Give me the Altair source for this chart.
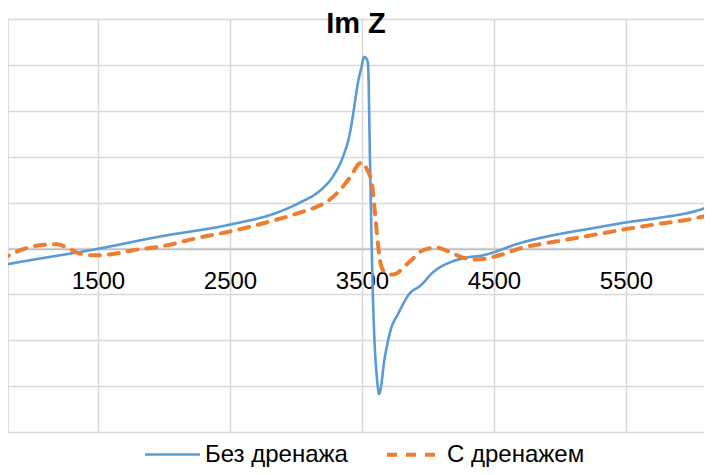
import altair as alt
import pandas as pd

series_names = ["Без дренажа", "С дренажем"]

blue_x = [758, 1061, 1439, 1970, 2500, 2856, 3030, 3182, 3280, 3356, 3409, 3432, 3470, 3500, 3515,
          3530, 3545, 3561, 3576, 3591, 3614, 3629, 3674, 3712, 3780, 3856, 3947, 4038, 4189, 4288,
          4417, 4492, 4667, 4970, 5227, 5508, 5758, 6008, 6152]
blue_y = [-0.37, -0.22, -0.04, 0.26, 0.52, 0.78, 1.0, 1.26, 1.57, 2.0, 2.52, 2.91, 3.62, 4.0, 4.17,
          4.15, 4.04, 1.87, -0.30, -1.76, -2.85, -3.17, -2.35, -1.83, -1.39, -1.0, -0.80, -0.52, -0.28, -0.20,
          -0.15, -0.09, 0.09, 0.30, 0.43, 0.57, 0.67, 0.80, 0.93]

orange_x = [758, 886, 1061, 1189, 1265, 1341, 1462, 1591, 1765, 1970,
            2273, 2500, 2780, 3030, 3159, 3235, 3356, 3432, 3470, 3500,
            3538, 3576, 3598, 3621, 3644, 3674, 3735, 3856, 3962, 4061,
            4159, 4265, 4364, 4515, 4720, 4970, 5227, 5477, 5758, 5977, 6152]
orange_y = [-0.26, -0.07, 0.07, 0.09, 0.02, -0.09, -0.15, -0.13, -0.04, 0.04,
            0.24, 0.37, 0.57, 0.78, 0.91, 1.02, 1.35, 1.65, 1.83, 1.87,
            1.72, 1.39, 0.78, 0.09, -0.37, -0.52, -0.57, -0.30, -0.04, 0.02,
            -0.07, -0.20, -0.24, -0.17, 0.02, 0.15, 0.28, 0.41, 0.54, 0.63, 0.74]

x_ticks = [1500, 2500, 3500, 4500, 5500]
y_grid = [-4, -3, -2, -1, 0, 1, 2, 3, 4, 5]

df = pd.concat([
    pd.DataFrame({"x": blue_x, "y": blue_y, "series": series_names[0], "order": range(len(blue_x))}),
    pd.DataFrame({"x": orange_x, "y": orange_y, "series": series_names[1], "order": range(len(orange_x))}),
])

FONT = "Liberation Sans"

legend = alt.Legend(
    title=None, orient="none", legendX=135, legendY=406, direction="horizontal", columns=2,
    symbolType="stroke", symbolSize=3025, symbolStrokeWidth=3,
    labelFontSize=24, labelFont=FONT, labelColor="black", labelOffset=3,
    columnPadding=31, padding=0,
)

chart = alt.Chart(df).mark_line(interpolate="monotone", clip=True, strokeCap="round").encode(
    x=alt.X("x:Q",
            scale=alt.Scale(domain=[818.2, 6090.9], nice=False, zero=False),
            axis=alt.Axis(values=x_ticks, format="d", orient="bottom", offset=-183,
                          domain=True, domainColor="#BFBFBF", domainWidth=1.5,
                          ticks=False, labelFontSize=24, labelFont=FONT, labelColor="black",
                          labelPadding=20, grid=True, gridColor="#D9D9D9", gridWidth=1.5,
                          title=None, labelFlush=False, labelOverlap=False)),
    y=alt.Y("y:Q",
            scale=alt.Scale(domain=[-4, 5], nice=False, zero=False),
            axis=alt.Axis(values=y_grid, labels=False, ticks=False, domain=False, grid=True,
                          gridColor="#D9D9D9", gridWidth=1.5, title=None)),
    color=alt.Color("series:N", scale=alt.Scale(domain=series_names, range=["#5B9BD5", "#ED7D31"]),
                    legend=legend),
    strokeDash=alt.StrokeDash("series:N", scale=alt.Scale(domain=series_names, range=[[1, 0], [10, 9]]),
                              legend=legend),
    strokeWidth=alt.StrokeWidth("series:N", scale=alt.Scale(domain=series_names, range=[2.6, 4]),
                                legend=None),
    order="order:Q",
).properties(
    width=696,
    height=413,
    title=alt.TitleParams("Im Z", font=FONT, fontSize=29, fontWeight="bold", color="black",
                          anchor="middle", baseline="alphabetic", offset=-43),
    autosize=alt.AutoSizeParams(type="none"),
    padding={"left": 0, "right": 0, "top": 11, "bottom": 35},
).configure_view(stroke=None).configure(background="white")

chart.save("out.html", embed_options={"renderer": "svg", "actions": False})
